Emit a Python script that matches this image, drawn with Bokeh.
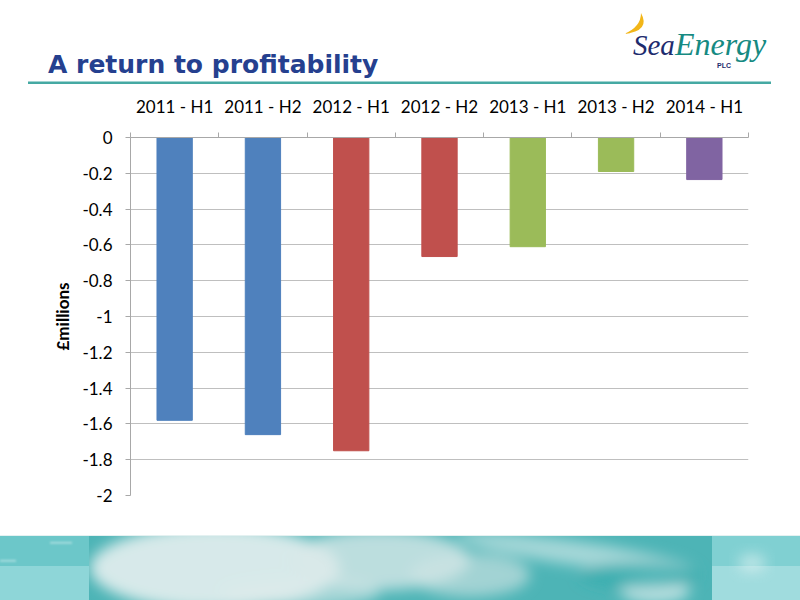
from bokeh.plotting import figure
from bokeh.layouts import column
from bokeh.models import ColumnDataSource, Range1d, FixedTicker, LinearAxis, Div
from bokeh.embed import file_html
from bokeh.resources import INLINE


# data (loss per half year, £ millions)
periods = ["2011 - H1", "2011 - H2", "2012 - H1", "2012 - H2",
           "2013 - H1", "2013 - H2", "2014 - H1"]
losses = [-1.58, -1.66, -1.75, -0.665, -0.61, -0.19, -0.235]
bar_colors = ["#4F81BD", "#4F81BD", "#C0504D", "#C0504D",
              "#9BBB59", "#9BBB59", "#8064A2"]
y_ticks = [0, -0.2, -0.4, -0.6, -0.8, -1, -1.2, -1.4, -1.6, -1.8, -2]
y_tick_labels = ["0", "-0.2", "-0.4", "-0.6", "-0.8", "-1", "-1.2",
                 "-1.4", "-1.6", "-1.8", "-2"]

slide_title = "A return to profitability"
y_label = "£millions"

W = 800
GRID = "#BFBFBF"
AXIS = "#A8A8A8"

# ---- header: title, rule and logo (plain svg inside a Div) ----
header_svg = f"""
<svg xmlns="http://www.w3.org/2000/svg" width="{W}" height="88" style="display:block">
  <text x="48" y="73.3" style="font-family:'DejaVu Sans';font-weight:bold;font-size:25px;fill:#25408F">{slide_title}</text>
  <line x1="28" y1="82.7" x2="771" y2="82.7" stroke="#45A9A3" stroke-width="2.5"/>
  <path d="M641,13 Q651,31 624,34 Q641,27 641,13 Z" fill="#F2B619"/>
  <text x="633" y="55" style="font-family:'Liberation Serif';font-style:italic;font-size:29px"><tspan style="fill:#1E2C6E">Sea</tspan><tspan style="font-size:32px;fill:#168A82">Energy</tspan></text>
  <text x="717" y="68" style="font-family:'Liberation Sans';font-weight:bold;font-size:7px;fill:#1E2C6E">PLC</text>
</svg>
""".strip()
head = Div(text=header_svg, width=W, height=88, margin=0)

# ---- chart ----
n = len(periods)
slot_mid = [i + 0.5 for i in range(n)]
source = ColumnDataSource(dict(x=slot_mid, period=periods, loss=losses, color=bar_colors))

p = figure(x_range=Range1d(0, n), y_range=Range1d(-2, 0), width=W, height=447,
           output_backend="svg", toolbar_location=None,
           x_axis_location=None, y_axis_location="left",
           min_border_left=130, min_border_right=52,
           min_border_top=49, min_border_bottom=40)
p.outline_line_color = None
p.xgrid.visible = False
p.ygrid.grid_line_color = GRID
p.ygrid.ticker = FixedTicker(ticks=y_ticks)

p.vbar(x="x", top=0, bottom="loss", width=0.4, color="color", source=source)

# category names on the zero line, small ticks between categories
cats = LinearAxis(ticker=FixedTicker(ticks=slot_mid, minor_ticks=list(range(n + 1))))
cats.major_label_overrides = dict(zip(slot_mid, periods))
cats.axis_line_color = AXIS
cats.major_tick_line_color = None
cats.major_tick_out = 0
cats.minor_tick_line_color = AXIS
cats.minor_tick_out = 5
cats.minor_tick_in = 0
cats.major_label_standoff = 16
cats.major_label_text_font = "Lato"
cats.major_label_text_font_size = "17px"
cats.major_label_text_color = "#000000"
p.add_layout(cats, "above")

ya = p.yaxis[0]
ya.ticker = FixedTicker(ticks=y_ticks)
ya.major_label_overrides = dict(zip(y_ticks, y_tick_labels))
ya.axis_line_color = AXIS
ya.major_tick_line_color = AXIS
ya.major_tick_out = 5
ya.major_tick_in = 0
ya.minor_tick_line_color = None
ya.major_label_standoff = 13
ya.major_label_text_font = "Lato"
ya.major_label_text_font_size = "17px"
ya.major_label_text_color = "#000000"
ya.axis_label = y_label
ya.axis_label_text_font = "Lato"
ya.axis_label_text_font_size = "17px"
ya.axis_label_text_font_style = "bold"
ya.axis_label_text_color = "#000000"
ya.axis_label_standoff = 6

# ---- footer: sea photo strip, roughly ----
footer_svg = f"""
<svg xmlns="http://www.w3.org/2000/svg" width="{W}" height="65" style="display:block">
  <defs>
    <filter id="soft" x="-30%" y="-60%" width="160%" height="220%">
      <feGaussianBlur stdDeviation="7"/>
    </filter>
    <filter id="haze"><feGaussianBlur stdDeviation="1.2"/></filter>
    <clipPath id="mid"><rect x="89" y="1" width="623" height="64"/></clipPath>
  </defs>
  <rect x="0" y="0" width="{W}" height="1" fill="#E4F1F1"/>
  <rect x="0" y="1" width="89" height="30" fill="#6CC7C9"/>
  <rect x="0" y="31" width="89" height="34" fill="#8ED6D8"/>
  <rect x="712" y="1" width="88" height="30" fill="#80D0D2"/>
  <rect x="712" y="31" width="88" height="34" fill="#A0DCDE"/>
  <rect x="89" y="1" width="623" height="64" fill="#4DB4B6"/>
  <g clip-path="url(#mid)" filter="url(#soft)">
    <ellipse cx="215" cy="33" rx="125" ry="42" fill="#E6EFEF" opacity="0.9"/>
    <ellipse cx="380" cy="25" rx="90" ry="30" fill="#D8E8E8" opacity="0.8"/>
    <ellipse cx="300" cy="58" rx="80" ry="15" fill="#DDEBEB" opacity="0.6"/>
    <ellipse cx="470" cy="40" rx="60" ry="22" fill="#CFE4E4" opacity="0.65"/>
    <ellipse cx="575" cy="18" rx="120" ry="12" fill="#E0EEEE" opacity="0.6"
             transform="rotate(8 575 18)"/>
    <ellipse cx="655" cy="56" rx="35" ry="12" fill="#E2F0F0" opacity="0.75"/>
    <ellipse cx="640" cy="40" rx="60" ry="14" fill="#2FAAAC" opacity="0.6"/>
  </g>
  <ellipse cx="752" cy="28" rx="14" ry="9" fill="#E6F4F4" opacity="0.6" filter="url(#soft)"/>
  <g filter="url(#haze)" opacity="0.6">
    <rect x="50" y="7" width="22" height="1.5" fill="#E8F6F6"/>
    <rect x="0" y="25" width="16" height="1.5" fill="#E8F6F6"/>
  </g>
</svg>
""".strip()
foot = Div(text=footer_svg, width=W, height=65, margin=0)

layout = column(head, p, foot)
open("out.html", "w").write(file_html(layout, INLINE))
